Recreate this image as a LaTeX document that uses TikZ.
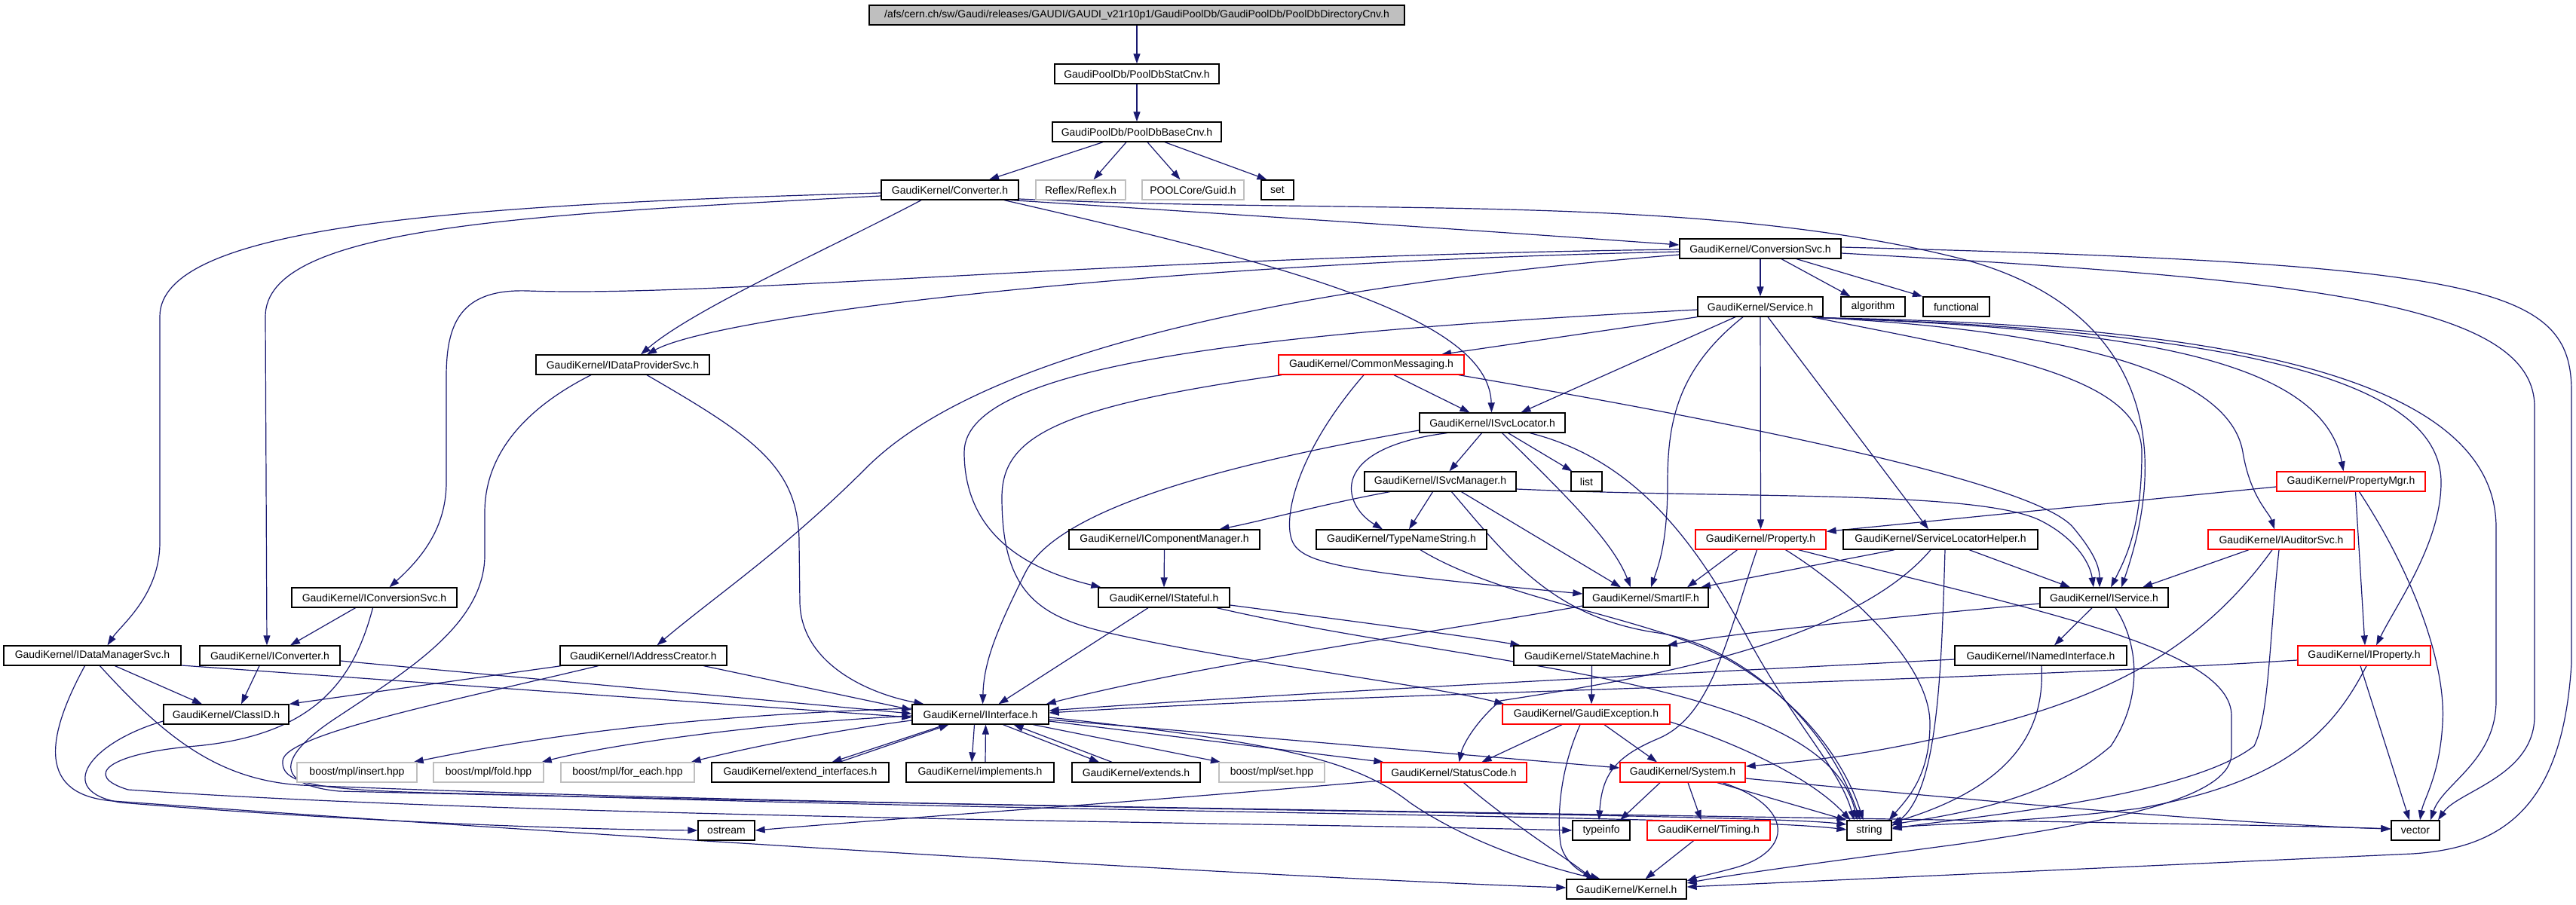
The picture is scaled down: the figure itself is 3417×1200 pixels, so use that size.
\documentclass[tikz,border=0pt]{standalone}
\usepackage{fontspec}
\setmainfont{Liberation Sans}
\usetikzlibrary{arrows.meta,backgrounds}
\definecolor{edgec}{HTML}{191970}
\definecolor{grayb}{HTML}{BFBFBF}
\begin{document}
\begin{tikzpicture}[x=1pt,y=-1pt,
  box/.style={draw=black, line width=1.3pt, minimum height=26pt, inner sep=0pt, fill=white, font=\fontsize{14pt}{16pt}\selectfont},
  redbox/.style={box, draw=red},
  graybox/.style={box, draw=grayb},
  e/.style={draw=edgec, line width=1.2pt, -{Triangle[length=13pt,width=9pt]}},
]
\useasboundingbox (0,0) rectangle (3417,1200);
% nodes
\node[box,fill=grayb,minimum width=710pt] (root) at (1508,20) {/afs/cern.ch/sw/Gaudi/releases/GAUDI/GAUDI\_v21r10p1/GaudiPoolDb/GaudiPoolDb/PoolDbDirectoryCnv.h};
\node[box,minimum width=218pt] (statcnv) at (1508,98) {GaudiPoolDb/PoolDbStatCnv.h};
\node[box,minimum width=224pt] (basecnv) at (1508,175) {GaudiPoolDb/PoolDbBaseCnv.h};
\node[box,minimum width=182pt] (converter) at (1260,252) {GaudiKernel/Converter.h};
\node[graybox,minimum width=119pt] (reflex) at (1433.5,252) {Reflex/Reflex.h};
\node[graybox,minimum width=135pt] (guid) at (1582.5,252) {POOLCore/Guid.h};
\node[box,minimum width=43pt] (set) at (1694.5,252) {set};
\node[box,minimum width=214pt] (conversionsvc) at (2335,330) {GaudiKernel/ConversionSvc.h};
\node[box,minimum width=166pt] (service) at (2335,407) {GaudiKernel/Service.h};
\node[box,minimum width=85pt] (algorithm) at (2484.5,407) {algorithm};
\node[box,minimum width=88pt] (functional) at (2595,407) {functional};
\node[box,minimum width=230pt] (idataprovidersvc) at (826,484) {GaudiKernel/IDataProviderSvc.h};
\node[redbox,minimum width=246pt] (commonmessaging) at (1819,484) {GaudiKernel/CommonMessaging.h};
\node[box,minimum width=193pt] (isvclocator) at (1979.5,561) {GaudiKernel/ISvcLocator.h};
\node[box,minimum width=41pt] (list) at (2104.5,639) {list};
\node[box,minimum width=201pt] (isvcmanager) at (1910.5,639) {GaudiKernel/ISvcManager.h};
\node[box,minimum width=253pt] (icomponentmanager) at (1544.5,716) {GaudiKernel/IComponentManager.h};
\node[box,minimum width=226pt] (typenamestring) at (1859,716) {GaudiKernel/TypeNameString.h};
\node[redbox,minimum width=173pt] (property) at (2335.5,716) {GaudiKernel/Property.h};
\node[box,minimum width=258pt] (slh) at (2574,716) {GaudiKernel/ServiceLocatorHelper.h};
\node[redbox,minimum width=197pt] (propertymgr) at (3118.5,639) {GaudiKernel/PropertyMgr.h};
\node[redbox,minimum width=194pt] (iauditorsvc) at (3026,716) {GaudiKernel/IAuditorSvc.h};
\node[box,minimum width=219pt] (iconversionsvc) at (496.5,793) {GaudiKernel/IConversionSvc.h};
\node[box,minimum width=174pt] (istateful) at (1544,793) {GaudiKernel/IStateful.h};
\node[box,minimum width=166pt] (smartif) at (2183,793) {GaudiKernel/SmartIF.h};
\node[box,minimum width=170pt] (iservice) at (2791,793) {GaudiKernel/IService.h};
\node[box,minimum width=235pt] (idatamanagersvc) at (122.5,870) {GaudiKernel/IDataManagerSvc.h};
\node[box,minimum width=186pt] (iconverter) at (358,870) {GaudiKernel/IConverter.h};
\node[box,minimum width=221pt] (iaddresscreator) at (853.5,870) {GaudiKernel/IAddressCreator.h};
\node[box,minimum width=207pt] (statemachine) at (2111.5,870) {GaudiKernel/StateMachine.h};
\node[box,minimum width=228pt] (inamedinterface) at (2707,870) {GaudiKernel/INamedInterface.h};
\node[redbox,minimum width=176pt] (iproperty) at (3136,870) {GaudiKernel/IProperty.h};
\node[box,minimum width=166pt] (classid) at (300,948) {GaudiKernel/ClassID.h};
\node[box,minimum width=181pt] (iinterface) at (1300.5,948) {GaudiKernel/IInterface.h};
\node[redbox,minimum width=222pt] (gaudiexception) at (2104,948) {GaudiKernel/GaudiException.h};
\node[graybox,minimum width=159pt] (insert) at (473.5,1025) {boost/mpl/insert.hpp};
\node[graybox,minimum width=146pt] (fold) at (648,1025) {boost/mpl/fold.hpp};
\node[graybox,minimum width=177pt] (foreach) at (832.5,1025) {boost/mpl/for\_each.hpp};
\node[box,minimum width=235pt] (extendinterfaces) at (1061.5,1025) {GaudiKernel/extend\_interfaces.h};
\node[box,minimum width=196pt] (implements) at (1300,1025) {GaudiKernel/implements.h};
\node[box,minimum width=170pt] (extends) at (1507,1025) {GaudiKernel/extends.h};
\node[graybox,minimum width=140pt] (sethpp) at (1687,1025) {boost/mpl/set.hpp};
\node[redbox,minimum width=193pt] (statuscode) at (1928.5,1025) {GaudiKernel/StatusCode.h};
\node[redbox,minimum width=166pt] (system) at (2232,1025) {GaudiKernel/System.h};
\node[box,minimum width=75pt] (ostream) at (963.5,1102) {ostream};
\node[box,minimum width=76pt] (typeinfo) at (2124,1102) {typeinfo};
\node[box,minimum width=59pt] (string) at (2479.5,1102) {string};
\node[redbox,minimum width=163pt] (timing) at (2266.5,1102) {GaudiKernel/Timing.h};
\node[box,minimum width=64pt] (vector) at (3204,1102) {vector};
\node[box,minimum width=159pt] (kernel) at (2157.5,1180) {GaudiKernel/Kernel.h};

\begin{scope}[on background layer]
\fill[white] (0,0) rectangle (3417,1200);
% top
\draw[e] (root) -- (statcnv);
\draw[e] (statcnv) -- (basecnv);
\draw[e] ([xshift=-45pt]basecnv.south) -- ([xshift=52pt]converter.north);
\draw[e] ([xshift=-14pt]basecnv.south) -- ([xshift=17pt]reflex.north);
\draw[e] ([xshift=14pt]basecnv.south) -- ([xshift=-17pt]guid.north);
\draw[e] ([xshift=37pt]basecnv.south) -- ([xshift=-14pt]set.north);
% converter
\draw[e] ([xshift=-10pt]converter.south east) .. controls (1600,282) and (1950,305) .. ([yshift=5pt]conversionsvc.west);
\draw[e] ([xshift=-38pt]converter.south) .. controls (1100,330) and (920,410) .. ([xshift=24pt]idataprovidersvc.north);
\draw[e] ([xshift=72pt]converter.south) .. controls (1700,350) and (1975,420) .. ([xshift=-1pt]isvclocator.north);
\draw[e] ([yshift=-8pt]converter.west) .. controls (700,285) and (352,300) .. (352,420) -- ([xshift=-4pt]iconverter.north);
\draw[e] ([yshift=-4pt]converter.west) .. controls (600,272) and (212,300) .. (212,420) -- (212,720) .. controls (212,790) and (160,830) .. ([xshift=20pt]idatamanagersvc.north);
\draw[e] ([yshift=-12pt]converter.east) .. controls (1800,285) and (2250,255) .. (2600,343) .. controls (2820,400) and (2890,560) .. ([xshift=23pt]iservice.north);
% conversionsvc
\draw[e] (conversionsvc) -- (service);
\draw[e] ([xshift=28pt]conversionsvc.south) -- ([xshift=-30pt]algorithm.north);
\draw[e] ([xshift=48pt]conversionsvc.south) -- ([xshift=-45pt]functional.north);
\draw[e] ([yshift=-4pt]conversionsvc.west) .. controls (1500,350) and (950,420) .. ([xshift=32pt]idataprovidersvc.north);
\draw[e] ([yshift=-1pt]conversionsvc.west) .. controls (1500,340) and (950,395) .. (700,386) .. controls (610,383) and (592,430) .. (592,500) -- (592,640) .. controls (592,700) and (560,740) .. ([xshift=20pt]iconversionsvc.north);
\draw[e] ([yshift=-8pt]conversionsvc.west) .. controls (1700,380) and (1300,470) .. (1150,620) .. controls (1040,730) and (950,790) .. ([xshift=18pt]iaddresscreator.north);
\draw[e] ([yshift=-6pt]conversionsvc.east) .. controls (3050,370) and (3362,400) .. (3362,540) -- (3362,950) .. controls (3362,1030) and (3260,1050) .. ([xshift=30pt]vector.north);
\draw[e] ([yshift=2pt]conversionsvc.east) .. controls (3300,350) and (3411,380) .. (3411,520) -- (3411,880) .. controls (3400,1060) and (3330,1125) .. (3200,1133) -- ([yshift=3pt]kernel.east);
% service
\draw[e] (service.south west) -- ([xshift=93pt]commonmessaging.north);
\draw[e] ([xshift=-33pt]service.south) -- ([xshift=38pt]isvclocator.north);
\draw[e] ([xshift=-23pt]service.south) .. controls (2225,490) and (2212,560) .. (2212,640) .. controls (2212,720) and (2200,750) .. ([xshift=7pt]smartif.north);
\draw[e] (service.south) -- (property.north);
\draw[e] ([xshift=10pt]service.south) -- ([xshift=-16pt]slh.north);
\draw[e] ([xshift=68pt]service.south) .. controls (2650,470) and (2841,500) .. (2841,600) .. controls (2841,700) and (2820,740) .. ([xshift=9pt]iservice.north);
\draw[e] ([yshift=-4pt]service.west) .. controls (1700,440) and (1279,480) .. (1279,600) .. controls (1279,720) and (1380,760) .. ([xshift=4pt]istateful.north west);
\draw[e] ([xshift=-2pt,yshift=-1pt]service.south east) .. controls (2800,442) and (2960,510) .. (2975,600) .. controls (2985,660) and (3010,680) .. ([xshift=-9pt]iauditorsvc.north);
\draw[e] ([xshift=-4pt,yshift=-1pt]service.south east) .. controls (2800,436) and (3080,470) .. ([xshift=-10pt]propertymgr.north);
\draw[e] ([xshift=-6pt,yshift=-1pt]service.south east) .. controls (2950,438) and (3238,500) .. (3238,640) .. controls (3238,720) and (3180,800) .. ([xshift=16pt]iproperty.north);
\draw[e] ([xshift=-8pt,yshift=-1pt]service.south east) .. controls (2950,430) and (3311,500) .. (3311,700) -- (3311,930) .. controls (3311,1010) and (3240,1040) .. ([xshift=20pt]vector.north);
% commonmessaging
\draw[e] ([xshift=30pt]commonmessaging.south) -- ([xshift=-30pt]isvclocator.north);
\draw[e] ([xshift=116pt]commonmessaging.south) .. controls (2300,560) and (2700,640) .. (2750,700) .. controls (2775,730) and (2785,750) .. ([xshift=-6pt]iservice.north);
\draw[e] ([xshift=-10pt]commonmessaging.south) .. controls (1720,600) and (1700,690) .. (1715,720) .. controls (1730,750) and (1800,760) .. ([yshift=5pt]smartif.west);
\draw[e] ([xshift=-119pt]commonmessaging.south) .. controls (1400,540) and (1329,580) .. (1329,660) .. controls (1329,790) and (1380,820) .. (1480,842) .. controls (1650,880) and (1900,910) .. ([xshift=3pt]gaudiexception.north west);
% idataprovidersvc
\draw[e] ([xshift=32pt]idataprovidersvc.south) .. controls (1000,580) and (1060,620) .. (1060,720) -- (1061,800) .. controls (1063,880) and (1150,920) .. ([xshift=-75pt]iinterface.north);
\draw[e] ([xshift=-42pt]idataprovidersvc.south) .. controls (700,540) and (643,600) .. (643,680) -- (643,740) .. controls (640,830) and (540,890) .. (450,950) .. controls (380,995) and (350,1040) .. (450,1050) .. controls (1500,1075) and (2900,1090) .. ([yshift=2pt]vector.west);
% loops lower left
\draw[e] ([xshift=-10pt]idatamanagersvc.south) .. controls (60,980) and (50,1055) .. (150,1063) .. controls (800,1110) and (1700,1165) .. ([yshift=2pt]kernel.west);
\draw[e] ([xshift=10pt]idatamanagersvc.south) .. controls (220,980) and (290,1035) .. (400,1042) .. controls (1200,1075) and (2300,1078) .. ([yshift=8pt]string.west);
\draw[e] ([yshift=-9pt]classid.west) .. controls (120,985) and (70,1050) .. (160,1065) .. controls (400,1085) and (700,1100) .. (ostream.west);
\draw[e] ([xshift=-2pt]iconversionsvc.south) .. controls (470,900) and (420,975) .. (260,990) .. controls (140,1000) and (110,1030) .. (170,1048) .. controls (700,1085) and (1700,1092) .. (typeinfo.west);
\draw[e] ([xshift=-60pt]iaddresscreator.south) .. controls (600,930) and (375,975) .. (375,1010) .. controls (372,1048) and (450,1050) .. (700,1055) .. controls (1500,1080) and (2300,1083) .. ([yshift=1pt]string.west);
% iinterface out (left)
\draw[e] ([yshift=8pt]iinterface.west) .. controls (900,950) and (700,980) .. ([xshift=-5pt]insert.north east);
\draw[e] ([yshift=-2pt]iinterface.west) .. controls (1000,960) and (800,990) .. ([xshift=-3pt]fold.north east);
\draw[e] ([yshift=-8pt]iinterface.west) .. controls (1100,970) and (980,995) .. ([xshift=-5pt]foreach.north east);
\draw[e] ([xshift=-46pt]iinterface.south) -- ([xshift=42pt]extendinterfaces.north);
\draw[e] ([xshift=52pt]extendinterfaces.north) -- ([xshift=-42pt]iinterface.south);
\draw[e] ([xshift=-8pt]iinterface.south) -- ([xshift=-11pt]implements.north);
\draw[e] ([xshift=7pt]implements.north) -- ([xshift=7pt]iinterface.south);
\draw[e] ([xshift=30pt]iinterface.south) -- ([xshift=-49pt]extends.north);
\draw[e] ([xshift=-32pt]extends.north) -- ([xshift=44pt]iinterface.south);
\draw[e] ([xshift=70pt]iinterface.south) -- ([xshift=-68pt]sethpp.north);
\draw[e] ([yshift=-9pt]iinterface.east) -- ([xshift=4pt]statuscode.north west);
\draw[e] ([yshift=-7pt]iinterface.east) -- ([yshift=6pt]system.west);
\draw[e] ([yshift=-4pt]iinterface.east) .. controls (1700,985) and (1800,1010) .. (1870,1065) .. controls (1950,1120) and (2050,1150) .. ([xshift=-40pt]kernel.north);
% into iinterface
\draw[e] ([yshift=-13pt]idatamanagersvc.east) -- ([yshift=-4pt]iinterface.west);
\draw[e] ([yshift=-7pt]iconverter.east) -- ([yshift=1pt]iinterface.west);
\draw[e] ([xshift=80pt]iaddresscreator.south) -- ([yshift=6pt]iinterface.west);
% isvclocator
\draw[e] ([yshift=-10pt]isvclocator.west) .. controls (1600,620) and (1400,680) .. (1360,760) .. controls (1320,840) and (1305,880) .. ([xshift=3pt]iinterface.north);
\draw[e] ([xshift=-14pt]isvclocator.south) -- ([xshift=12pt]isvcmanager.north);
\draw[e] ([xshift=21pt]isvclocator.south) -- ([xshift=2pt]list.north west);
\draw[e] ([xshift=13pt]isvclocator.south) .. controls (2080,660) and (2140,720) .. ([xshift=-20pt]smartif.north);
\draw[e] ([xshift=-60pt]isvclocator.south) .. controls (1760,595) and (1780,670) .. ([xshift=-25pt]typenamestring.north);
\draw[e] ([xshift=50pt]isvclocator.south) .. controls (2170,610) and (2250,720) .. (2320,850) .. controls (2380,960) and (2440,1020) .. ([xshift=-20pt]string.north);
% isvcmanager
\draw[e] ([xshift=-10pt]isvcmanager.south) -- ([xshift=10pt]typenamestring.north);
\draw[e] ([xshift=-67pt]isvcmanager.south) .. controls (1750,670) and (1680,690) .. ([xshift=73pt]icomponentmanager.north);
\draw[e] ([xshift=28pt]isvcmanager.south) -- ([xshift=-33pt]smartif.north);
\draw[e] ([yshift=-10pt]isvcmanager.east) .. controls (2300,662) and (2620,650) .. (2705,690) .. controls (2750,712) and (2772,745) .. ([xshift=-14pt]iservice.north);
\draw[e] ([xshift=15pt]isvcmanager.south) .. controls (2000,740) and (2060,820) .. (2200,840) .. controls (2300,855) and (2420,950) .. ([xshift=-12pt]string.north);
% typenamestring, icomponentmanager, istateful, smartif
\draw[e] ([xshift=25pt]typenamestring.south) .. controls (2000,800) and (2200,820) .. (2300,880) .. controls (2400,940) and (2450,1020) .. ([xshift=-8pt]string.north);
\draw[e] (icomponentmanager.south) -- (istateful.north);
\draw[e] ([xshift=-21pt]istateful.south) -- ([xshift=24pt]iinterface.north);
\draw[e] ([yshift=-10pt]istateful.east) .. controls (1800,825) and (1950,845) .. ([xshift=-95pt]statemachine.north);
\draw[e] ([xshift=70pt]istateful.south) .. controls (1950,885) and (2420,900) .. ([xshift=-16pt]string.north);
\draw[e] ([yshift=-11pt]smartif.west) .. controls (1900,840) and (1600,880) .. ([xshift=-4pt]iinterface.north east);
% property
\draw[e] ([xshift=-31pt]property.south) -- ([xshift=55pt]smartif.north);
\draw[e] ([xshift=-5pt]property.south) .. controls (2290,850) and (2270,950) .. (2200,980) .. controls (2140,1005) and (2125,1030) .. ([xshift=-3pt]typeinfo.north);
\draw[e] ([xshift=33pt]property.south) .. controls (2450,780) and (2560,880) .. (2560,960) .. controls (2560,1030) and (2530,1060) .. ([xshift=-4pt]string.north east);
\draw[e] ([xshift=50pt]property.south) .. controls (2700,810) and (2960,860) .. (2960,950) -- (2960,1000) .. controls (2960,1060) and (2800,1090) .. (2600,1120) .. controls (2450,1140) and (2300,1160) .. ([yshift=8pt]kernel.east);
% slh
\draw[e] ([xshift=-61pt]slh.south) -- ([xshift=73pt]smartif.north);
\draw[e] ([xshift=38pt]slh.south) -- ([xshift=-45pt]iservice.north);
\draw[e] ([xshift=6pt]slh.south) .. controls (2575,900) and (2570,1050) .. ([yshift=6pt]string.east);
\draw[e] ([xshift=-13pt]slh.south) .. controls (2450,860) and (2150,905) .. (1990,930) .. controls (1955,960) and (1940,990) .. ([xshift=7pt]statuscode.north);
% iauditorsvc
\draw[e] ([xshift=-43pt]iauditorsvc.south) -- ([xshift=51pt]iservice.north);
\draw[e] ([xshift=-12pt]iauditorsvc.south) .. controls (2920,860) and (2800,920) .. (2650,960) .. controls (2500,1000) and (2400,1010) .. ([yshift=8pt]system.east);
\draw[e] ([xshift=-3pt]iauditorsvc.south) .. controls (3010,850) and (3010,950) .. (2990,990) .. controls (2900,1060) and (2600,1085) .. ([yshift=2pt]string.east);
% iservice
\draw[e] ([xshift=-16pt]iservice.south) -- ([xshift=18pt]inamedinterface.north);
\draw[e] ([yshift=-8pt]iservice.west) .. controls (2500,820) and (2300,840) .. ([xshift=-4pt]statemachine.north east);
\draw[e] ([xshift=15pt]iservice.south) .. controls (2840,860) and (2840,930) .. (2800,990) .. controls (2720,1060) and (2600,1080) .. ([yshift=8pt]string.east);
% inamedinterface, statemachine
\draw[e] ([yshift=-5pt]inamedinterface.west) .. controls (2300,890) and (1700,920) .. ([yshift=5pt]iinterface.east);
\draw[e] ([xshift=1pt]inamedinterface.south) .. controls (2712,960) and (2680,1040) .. ([yshift=10pt]string.east);
\draw[e] (statemachine.south) -- ([xshift=7pt]gaudiexception.north);
% propertymgr
\draw[e] ([yshift=-7pt]propertymgr.west) -- ([yshift=-3pt]property.north east);
\draw[e] ([xshift=6pt]propertymgr.south) -- ([xshift=1pt]iproperty.north);
\draw[e] ([xshift=11pt]propertymgr.south) .. controls (3200,760) and (3245,880) .. (3240,960) .. controls (3236,1030) and (3215,1060) .. ([xshift=6pt]vector.north);
% iproperty
\draw[e] ([yshift=-6pt]iproperty.west) .. controls (2600,905) and (1800,920) .. ([yshift=2pt]iinterface.east);
\draw[e] ([xshift=-5pt]iproperty.south) -- ([xshift=-8pt]vector.north);
\draw[e] ([xshift=3pt]iproperty.south) .. controls (3090,980) and (3020,1040) .. (2836,1073) .. controls (2700,1090) and (2600,1092) .. ([yshift=4pt]string.east);
% gaudiexception
\draw[e] ([xshift=-32pt]gaudiexception.south) -- ([xshift=37pt]statuscode.north);
\draw[e] ([xshift=-8pt]gaudiexception.south) .. controls (2070,1020) and (2065,1080) .. (2070,1120) .. controls (2075,1145) and (2100,1160) .. ([xshift=-35pt]kernel.north);
\draw[e] ([xshift=24pt]gaudiexception.south) -- ([xshift=-34pt]system.north);
\draw[e] ([yshift=-10pt]gaudiexception.east) .. controls (2300,985) and (2400,1030) .. ([xshift=-25pt]string.north);
% statuscode
\draw[e] ([yshift=-11pt]statuscode.west) .. controls (1500,1065) and (1200,1085) .. (ostream.east);
\draw[e] ([xshift=13pt]statuscode.south) .. controls (2000,1090) and (2080,1140) .. ([xshift=-45pt]kernel.north);
% system
\draw[e] ([xshift=-30pt]system.south) -- ([xshift=25pt]typeinfo.north);
\draw[e] ([xshift=7pt]system.south) -- ([xshift=-10pt]timing.north);
\draw[e] ([xshift=46pt]system.south) -- (string.north west);
\draw[e] ([yshift=-8pt]system.east) .. controls (2700,1070) and (3000,1095) .. ([yshift=2pt]vector.west);
\draw[e] ([xshift=53pt]system.south) .. controls (2380,1070) and (2380,1130) .. (2300,1152) .. controls (2270,1160) and (2255,1163) .. ([yshift=11pt]kernel.east);
\draw[e] ([xshift=-20pt]timing.south) -- ([xshift=25pt]kernel.north);
% classid etc
\draw[e] ([xshift=-14pt]iconverter.south) -- ([xshift=20pt]classid.north);
\draw[e] ([xshift=30pt]idatamanagersvc.south) -- ([xshift=-32pt]classid.north);
\draw[e] ([xshift=2pt]iaddresscreator.south west) -- (classid.north east);
\draw[e] ([xshift=-25pt]iconversionsvc.south) -- ([xshift=27pt]iconverter.north);
\end{scope}
\end{tikzpicture}
\end{document}
